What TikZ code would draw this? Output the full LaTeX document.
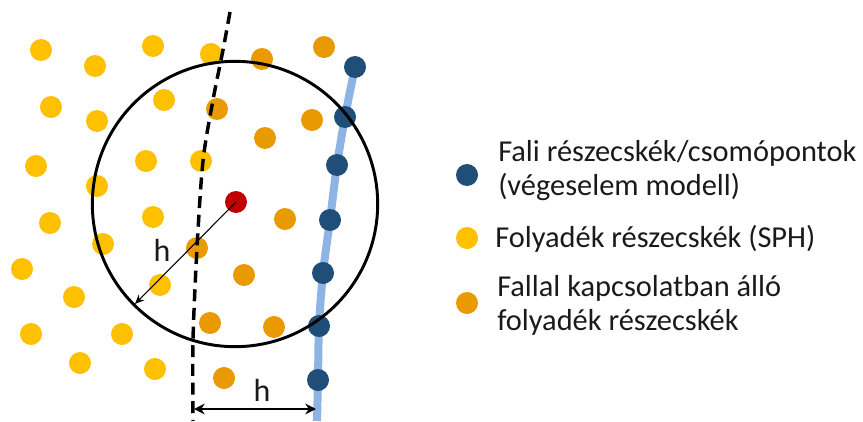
\documentclass[tikz,border=0pt]{standalone}
\usepackage{fontspec}
\setmainfont{Carlito}
\usetikzlibrary{arrows.meta}
\definecolor{fyel}{HTML}{FFC000}
\definecolor{forg}{HTML}{E99A00}
\definecolor{fblu}{HTML}{1F4E79}
\definecolor{fred}{HTML}{C00000}
\definecolor{wall}{HTML}{8EB4E3}
\definecolor{txt}{HTML}{1A1A1A}
\tikzset{
  dot/.style={circle,inner sep=0pt,minimum size=16.5pt,draw=none},
  ydot/.style={dot,fill=fyel},
  odot/.style={dot,fill=forg},
  bdot/.style={dot,fill=fblu},
  rdot/.style={dot,fill=fred},
  legtext/.style={anchor=west,align=left,text=txt,font=\fontsize{22.8}{25.5}\selectfont,inner sep=0pt},
  lbl/.style={text=txt,font=\fontsize{24}{26}\selectfont,inner sep=0pt}
}
\begin{document}
\begin{tikzpicture}[x=0.75pt,y=-0.75pt]
\useasboundingbox (0,0) rectangle (863,421);
% wall line
\draw[wall,line width=6pt,line cap=butt] plot[smooth] coordinates {(355,67) (345,117) (337,165) (330,220) (323,273) (319,326) (318,380) (317,421)};
% fluid particles
\foreach \n/\x/\y in {y1/41/50,y2/95/66,y3/153/46,y4/211/54,y5/51/107,y6/97/121,y7/164/100,y8/36/166,y9/146/161,y10/201/161,y11/97/186,y12/50/223,y13/153/217,y14/103/244,y15/22/269,y16/160/285,y17/74/297,y18/31/334,y19/122/334,y20/80/363,y21/155/369}
  \node[ydot] (\n) at (\x,\y) {};
\foreach \n/\x/\y in {o1/262/59,o2/324/47,o3/217/109,o4/312/120,o5/265/138,o6/285/219,o7/197/248,o8/244/275,o9/210/323,o10/274/327,o11/224/378}
  \node[odot] (\n) at (\x,\y) {};
\foreach \n/\x/\y in {b1/355/67,b2/345/117,b3/337/165,b4/330/220,b5/323/273,b6/319/326,b7/318/380}
  \node[bdot] (\n) at (\x,\y) {};
% support circle
\node[circle,draw=black,line width=2.2pt,minimum size=214pt,inner sep=0pt] (supp) at (235,204) {};
% dashed line
\draw[black,line width=2.6pt,dash pattern=on 9pt off 5pt] plot[smooth] coordinates {(230,12) (223,50) (213,100) (203,161) (197,248) (193,340) (193,421)};
% red particle
\node[rdot] (c) at (236,202) {};
% radius arrow
\coordinate (rim) at (135,304);
\draw[black,line width=0.8pt,-{Stealth[length=7pt,width=6pt]}] (c.center) -- (rim);
\node[lbl] (h1) at (162,250) {h};
% distance arrow
\coordinate (dl) at (194,409);
\coordinate (dr) at (316,409);
\draw[black,line width=1.6pt,{Stealth[length=8pt,width=8pt]}-{Stealth[length=8pt,width=8pt]}] (dl) -- (dr);
\node[lbl] (h2) at (262,390) {h};
% legend
\node[bdot] (lb) at (467,175) {};
\node[ydot] (ly) at (467,238) {};
\node[odot] (lo) at (467,303) {};
\node[legtext] (tb) at (498,171) {Fali részecskék/csomópontok\\(végeselem modell)};
\node[legtext] (ty) at (495,239) {Folyadék részecskék (SPH)};
\node[legtext] (to) at (497,305) {Fallal kapcsolatban álló\\folyadék részecskék};
\end{tikzpicture}
\end{document}
